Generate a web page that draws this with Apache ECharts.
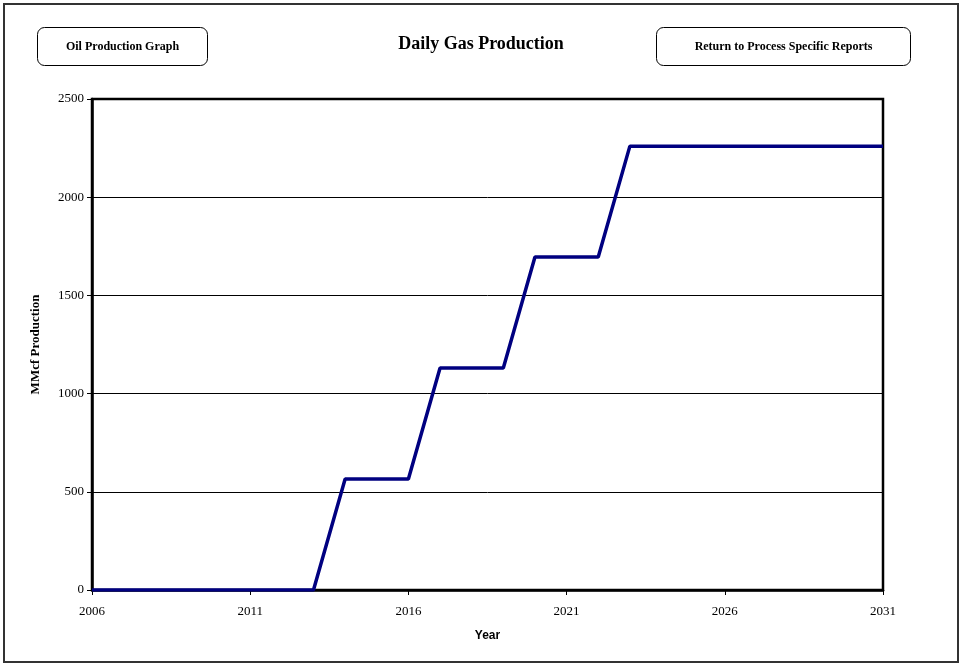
<!DOCTYPE html>
<html>
<head>
<meta charset="utf-8">
<script src="https://cdn.jsdelivr.net/npm/echarts@6/dist/echarts.min.js"></script>
<style>
  html, body { margin: 0; padding: 0; background: #fff; }
  #main { width: 962px; height: 667px; }
</style>
</head>
<body>
<div id="main"></div>
<script>
// chart data
var years = ['2006','2007','2008','2009','2010','2011','2012','2013','2014','2015','2016','2017','2018',
             '2019','2020','2021','2022','2023','2024','2025','2026','2027','2028','2029','2030','2031'];
var gasProduction = [0,0,0,0,0,0,0,0,565,565,565,1130,1130,1130,1695,1695,1695,2260,2260,2260,2260,2260,2260,2260,2260,2260];
var yTicks = [0, 500, 1000, 1500, 2000, 2500];

var myChart = echarts.init(document.getElementById('main'));

var serif = '"Liberation Serif", "Times New Roman", serif';

option = {
    backgroundColor: '#fff',
    animation: false,
    grid: { left: 92, right: 79, top: 99, bottom: 77, show: true, borderColor: '#000', borderWidth: 2.5 },
    title: {
        text: 'Daily Gas Production',
        left: 'center',
        top: 30,
        textStyle: { fontFamily: serif, fontWeight: 'bold', fontSize: 18, color: '#000' }
    },
    xAxis: {
        type: 'category',
        data: years,
        boundaryGap: false,
        name: 'Year',
        nameLocation: 'middle',
        nameGap: 40,
        nameTextStyle: { fontFamily: '"Liberation Sans", Arial, sans-serif', fontWeight: 'bold', fontSize: 12, color: '#000' },
        axisLine: { lineStyle: { color: '#000', width: 2.5 } },
        axisTick: { interval: 4, length: 5, lineStyle: { color: '#000' } },
        axisLabel: { interval: 4, margin: 15, fontFamily: serif, fontSize: 13, color: '#000' },
        splitLine: { show: false }
    },
    yAxis: {
        type: 'value',
        min: yTicks[0],
        max: yTicks[yTicks.length - 1],
        interval: 500,
        name: 'MMcf Production',
        nameLocation: 'middle',
        nameGap: 50,
        nameTextStyle: { fontFamily: serif, fontWeight: 'bold', fontSize: 13, color: '#000' },
        axisLine: { show: true, lineStyle: { color: '#000', width: 2.5 } },
        axisTick: { show: true, length: 5, lineStyle: { color: '#000' } },
        axisLabel: { margin: 8, fontFamily: serif, fontSize: 13, color: '#000',
                     formatter: function (v) { return String(v); } },
        splitLine: { lineStyle: { color: '#000', width: 1 } }
    },
    series: [{
        name: 'Daily Gas Production',
        type: 'line',
        data: gasProduction,
        symbol: 'none',
        lineStyle: { color: '#000080', width: 3.5 },
        z: 5
    }],
    graphic: [
        {
            type: 'rect',
            shape: { x: 4, y: 4, width: 954, height: 658 },
            style: { fill: 'none', stroke: '#333', lineWidth: 2 }
        },
        {
            type: 'group', left: 37, top: 27,
            children: [
                { type: 'rect', shape: { x: 0, y: 0, width: 170, height: 38, r: 7 },
                  style: { fill: '#fff', stroke: '#000', lineWidth: 1 } },
                { type: 'text', x: 85, y: 19,
                  style: { text: 'Oil Production Graph', fill: '#000', align: 'center', verticalAlign: 'middle',
                           font: 'bold 12px ' + serif } }
            ]
        },
        {
            type: 'group', left: 656, top: 27,
            children: [
                { type: 'rect', shape: { x: 0, y: 0, width: 254, height: 38, r: 7 },
                  style: { fill: '#fff', stroke: '#000', lineWidth: 1 } },
                { type: 'text', x: 127, y: 19,
                  style: { text: 'Return to Process Specific Reports', fill: '#000', align: 'center', verticalAlign: 'middle',
                           font: 'bold 12px ' + serif } }
            ]
        }
    ]
};
myChart.setOption(option);
</script>
</body>
</html>
